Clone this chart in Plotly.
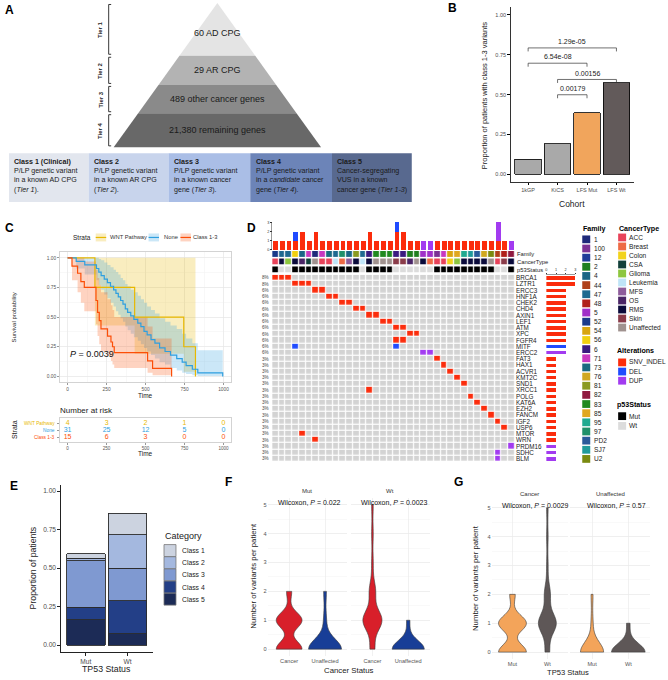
import numpy as np
import plotly.graph_objects as go

W, H = 668, 680
FONT = "Liberation Sans, Arial, sans-serif"


def X(p):
    return p / W


def Y(p):
    return 1 - p / H


def DX(a, b):
    return [a / W, b / W]


def DY(top, bottom):
    return [1 - bottom / H, 1 - top / H]


# ============================ DATA ============================
# Panel A
tier_names = ["Tier 1", "Tier 2", "Tier 3", "Tier 4"]
tier_texts = ["60 AD CPG", "29 AR CPG", "489 other cancer genes", "21,380 remaining genes"]
class_titles = ["Class 1 (Clinical)", "Class 2", "Class 3", "Class 4", "Class 5"]
class_bodies = [
    "P/LP genetic variant<br>in a known AD CPG<br>(<i>Tier 1</i>).",
    "P/LP genetic variant<br>in a known AR CPG<br>(<i>Tier 2</i>).",
    "P/LP genetic variant<br>in a known cancer<br>gene (<i>Tier 3</i>).",
    "P/LP genetic variant<br>in a <i>candidate</i> cancer<br>gene (<i>Tier 4</i>).",
    "Cancer-segregating<br>VUS in a known<br>cancer gene (<i>Tier 1-3</i>)",
]

# Panel B
cohorts = ["1kGP", "KiCS", "LFS Mut", "LFS Wt"]
prop_class13 = [0.094, 0.192, 0.386, 0.574]
cmp_from = ["1kGP", "1kGP", "KiCS", "KiCS"]
cmp_to = ["LFS Wt", "LFS Mut", "LFS Wt", "LFS Mut"]
cmp_p = ["1.29e-05", "6.54e-08", "0.00156", "0.00179"]
cmp_height = [0.793, 0.697, 0.595, 0.499]

# Panel C
strata = ["WNT Pathway", "None", "Class 1-3"]
wnt_time = [0, 175, 430, 745, 820]
wnt_surv = [1.0, 0.75, 0.5, 0.25, 0.0]
wnt_lo = [1.0, 0.43, 0.19, 0.04, 0.0]
wnt_hi = [1.0, 1.0, 1.0, 1.0, 0.0]
none_time = [0, 55, 110, 185, 200, 215, 235, 255, 275, 295, 310, 325, 340, 355, 370, 385, 405,
             425, 450, 470, 490, 510, 535, 560, 590, 625, 660, 700, 735, 760, 800, 835, 995]
none_surv = [1.0, 0.97, 0.94, 0.91, 0.88, 0.85, 0.82, 0.79, 0.76, 0.73, 0.70, 0.67, 0.64, 0.61,
             0.57, 0.54, 0.51, 0.48, 0.45, 0.42, 0.38, 0.35, 0.31, 0.28, 0.24, 0.21, 0.18, 0.15,
             0.12, 0.09, 0.06, 0.03, 0.0]
none_hi = [1.0, 1.0, 1.0, 1.0, 0.99, 0.98, 0.96, 0.94, 0.92, 0.90, 0.88, 0.86, 0.83, 0.81, 0.78,
           0.76, 0.73, 0.71, 0.68, 0.65, 0.62, 0.59, 0.56, 0.53, 0.49, 0.46, 0.43, 0.40, 0.36,
           0.32, 0.28, 0.22, 0.0]
none_lo = [1.0, 0.91, 0.86, 0.81, 0.77, 0.73, 0.69, 0.66, 0.62, 0.59, 0.55, 0.52, 0.49, 0.46,
           0.42, 0.39, 0.36, 0.33, 0.30, 0.27, 0.24, 0.21, 0.18, 0.15, 0.12, 0.10, 0.07, 0.05,
           0.03, 0.02, 0.01, 0.004, 0.0]
cls_time = [0, 28, 64, 85, 107, 182, 192, 203, 214, 256, 278, 288, 299, 513, 545, 667]
cls_surv = [1.0, 0.93, 0.87, 0.80, 0.75, 0.64, 0.54, 0.47, 0.40, 0.34, 0.29, 0.25, 0.20, 0.13, 0.067, 0.0]
cls_hi = [1.0, 1.0, 1.0, 1.0, 0.97, 0.90, 0.83, 0.77, 0.71, 0.65, 0.60, 0.56, 0.50, 0.42, 0.32, 0.0]
cls_lo = [1.0, 0.81, 0.71, 0.62, 0.55, 0.44, 0.34, 0.27, 0.21, 0.17, 0.13, 0.10, 0.07, 0.03, 0.01, 0.0]
km_pvalue = "0.0039"
risk_time = [0, 250, 500, 750, 1000]
risk_wnt = [4, 3, 2, 1, 0]
risk_none = [31, 25, 12, 5, 0]
risk_class13 = [15, 6, 3, 0, 0]

# Panel D
genes = ["BRCA1", "LZTR1", "ERCC3", "HNF1A", "CHEK2", "CHD4", "AXIN1", "LEF1", "ATM", "XPC",
         "FGFR4", "MITF", "ERCC2", "FAT3", "HAX1", "ACVR1", "KMT2C", "SND1", "XRCC1", "POLG",
         "KAT6A", "EZH2", "FANCM", "IGF2", "USP6", "MTOR", "WRN", "PRDM16", "SDHC", "BLM"]
alt_gene = ["BRCA1", "BRCA1", "BRCA1", "LZTR1", "LZTR1", "LZTR1", "ERCC3", "ERCC3", "HNF1A", "HNF1A",
            "CHEK2", "CHEK2", "CHD4", "CHD4", "AXIN1", "AXIN1", "LEF1", "LEF1", "ATM", "ATM",
            "XPC", "XPC", "FGFR4", "FGFR4", "MITF", "MITF", "ERCC2", "ERCC2", "FAT3", "HAX1",
            "ACVR1", "KMT2C", "SND1", "XRCC1", "POLG", "KAT6A", "EZH2", "FANCM", "IGF2", "USP6",
            "MTOR", "WRN", "PRDM16", "SDHC", "BLM"]
alt_sample = [0, 1, 2, 3, 4, 5, 6, 7, 8, 9,
              10, 11, 12, 13, 14, 15, 16, 17, 18, 19,
              20, 21, 18, 19, 3, 18, 22, 23, 24, 25,
              26, 27, 28, 14, 29, 30, 31, 32, 33, 34,
              4, 6, 35, 33, 33]
alt_type = ["SNV_INDEL", "SNV_INDEL", "SNV_INDEL", "SNV_INDEL", "SNV_INDEL", "SNV_INDEL", "SNV_INDEL",
            "SNV_INDEL", "SNV_INDEL", "SNV_INDEL", "SNV_INDEL", "SNV_INDEL", "SNV_INDEL", "SNV_INDEL",
            "SNV_INDEL", "SNV_INDEL", "SNV_INDEL", "SNV_INDEL", "SNV_INDEL", "SNV_INDEL", "SNV_INDEL",
            "SNV_INDEL", "SNV_INDEL", "SNV_INDEL", "DEL", "DEL", "DUP", "DUP", "SNV_INDEL", "SNV_INDEL",
            "SNV_INDEL", "SNV_INDEL", "SNV_INDEL", "SNV_INDEL", "SNV_INDEL", "SNV_INDEL", "SNV_INDEL",
            "SNV_INDEL", "SNV_INDEL", "SNV_INDEL", "SNV_INDEL", "SNV_INDEL", "DUP", "DUP", "DUP"]
alt_levels = ["SNV_INDEL", "DEL", "DUP"]
sample_family = ["52", "47", "47", "56", "4", "71", "1", "71", "73", "47", "97", "4", "81", "47", "6",
                 "83", "83", "83", "6", "6", "2", "2", "5", "5", "100", "71", "54", "85", "95", "SJ7",
                 "PD2", "76", "U2", "44", "48", "82"]
sample_cancer = ["ACC", "RMS", "Glioma", "RMS", "OS", "CSA", "Unaffected", "ACC", "ACC", "Leukemia",
                 "Breast", "MFS", "RMS", "Leukemia", "RMS", "Unaffected", "Unaffected", "Unaffected",
                 "Skin", "Skin", "OS", "Unaffected", "RMS", "Breast", "ACC", "ACC", "Colon", "Glioma",
                 "RMS", "RMS", "RMS", "RMS", "Unaffected", "ACC", "Skin", "RMS"]
sample_p53 = ["Mut", "Wt", "Wt", "Mut", "Mut", "Mut", "Mut", "Mut", "Mut", "Mut", "Mut", "Mut", "Mut",
              "Wt", "Mut", "Mut", "Mut", "Mut", "Wt", "Wt", "Wt", "Wt", "Wt", "Wt", "Mut", "Mut", "Mut",
              "Mut", "Mut", "Mut", "Mut", "Mut", "Mut", "Wt", "Wt", "Mut"]
family_levels = ["1", "100", "12", "2", "4", "44", "47", "48", "5", "52", "54", "56", "6", "71", "73",
                 "76", "81", "82", "83", "85", "95", "97", "PD2", "SJ7", "U2"]
cancer_levels = ["ACC", "Breast", "Colon", "CSA", "Glioma", "Leukemia", "MFS", "OS", "RMS", "Skin",
                 "Unaffected"]
p53_levels = ["Mut", "Wt"]

# Panel E
tp53_status = ["Mut", "Wt"]
category_levels = ["Class 1", "Class 2", "Class 3", "Class 4", "Class 5"]
prop_class1 = [0.027, 0.141]
prop_class2 = [0.016, 0.216]
prop_class3 = [0.303, 0.213]
prop_class4 = [0.082, 0.214]
prop_class5 = [0.164, 0.073]

# Panels F and G (patients per number of variants)
variant_levels = [0, 1, 2, 3, 4, 5]
mut_cancer_n = [10, 10, 2, 0, 0, 0]
mut_unaffected_n = [12, 1, 1, 0, 0, 0]
wt_cancer_n = [3, 12, 4, 1, 1, 1]
wt_unaffected_n = [10, 1, 0, 0, 0, 0]
wilcox_F = ["0.022", "0.0023"]
wilcox_G = ["0.0029", "0.57"]

# ============================ STYLE ============================
tier_fill = ["#e4e4e4", "#b3b3b3", "#8a8a8a", "#686868"]
tier_bounds_px = [2, 55, 84.3, 112.7, 147]
class_fill = ["#e2e6ee", "#c8d4ec", "#aabee6", "#6c84b8", "#58698f"]
class_x_px = [8, 88, 168, 250, 332, 412]
b_colors = ["#a9a9a9", "#a9a9a9", "#f1a55c", "#625a5a"]
strata_colors = ["#E7B800", "#2E9FDF", "#FC4E07"]
strata_fill = ["rgba(231,184,0,0.25)", "rgba(46,159,223,0.25)", "rgba(252,78,7,0.25)"]
alt_colors = ["#fb2c0c", "#1f4bff", "#a23bf0"]
family_colors = ["#1f2a7a", "#7b3294", "#1f3c99", "#1f7f1f", "#1a6585", "#b0401a", "#1f6a90",
                 "#b0201a", "#a030c8", "#1a3a8a", "#d8a510", "#f0d010", "#3a1a80", "#c838c0",
                 "#1a6a80", "#d0a820", "#8a9a20", "#901a40", "#208a20", "#e0a820", "#20aa90",
                 "#20906a", "#2a5a9a", "#209a9a", "#7a8a10"]
cancer_colors = ["#e8435a", "#ee6a45", "#f2d31b", "#12403a", "#8dc63f", "#bfe4f7", "#8e5c9b",
                 "#4a2566", "#0b0b3b", "#8a3c4a", "#a0928f"]
p53_colors = ["#000000", "#dcdcdc"]
cat_colors = ["#ccd3e0", "#a4b8df", "#7f99d1", "#233f87", "#1c2b56"]
f_colors = ["#d81f2a", "#183e97"]
g_colors = ["#f3a45a", "#5e5757"]

shapes = []
annotations = []
traces = []


def ann(text, x, y, size=7, color="#222222", xanchor="center", yanchor="middle", angle=0, **kw):
    d = dict(text=text, x=X(x), y=Y(y), xref="paper", yref="paper", showarrow=False,
             font=dict(size=size, color=color, family=FONT), xanchor=xanchor, yanchor=yanchor,
             textangle=angle, borderpad=0)
    d.update(kw)
    annotations.append(d)


def rect(x0, y0, x1, y1, fill, line_color=None, lw=0):
    shapes.append(dict(type="rect", xref="paper", yref="paper", x0=X(x0), x1=X(x1), y0=Y(y0), y1=Y(y1),
                       fillcolor=fill, line=dict(color=line_color or fill, width=lw), layer="above"))


def seg(x0, y0, x1, y1, color, lw=1):
    shapes.append(dict(type="line", xref="paper", yref="paper", x0=X(x0), x1=X(x1), y0=Y(y0), y1=Y(y1),
                       line=dict(color=color, width=lw), layer="above"))


def disc_scale(colors):
    n = len(colors)
    cs = []
    for i, c in enumerate(colors):
        cs.append([i / n, c])
        cs.append([(i + 1) / n, c])
    return cs


def base_axis(**kw):
    d = dict(showgrid=False, zeroline=False, showline=False, ticks="", showticklabels=False)
    d.update(kw)
    return d


axes = {}

# ============================ PANEL A ============================
apex_x, apex_y, base_y, base_hw = 217, 2, 147, 104


def hw(yy):
    return base_hw * (yy - apex_y) / (base_y - apex_y)


for i in range(4):
    y0, y1 = tier_bounds_px[i], tier_bounds_px[i + 1]
    pts = [(apex_x - hw(y0), y0), (apex_x + hw(y0), y0), (apex_x + hw(y1), y1), (apex_x - hw(y1), y1)]
    path = "M " + " L ".join(f"{X(a):.5f},{Y(b):.5f}" for a, b in pts) + " Z"
    shapes.append(dict(type="path", xref="paper", yref="paper", path=path, fillcolor=tier_fill[i],
                       line=dict(width=0), layer="below"))
    cy = (y0 + y1) / 2 + (4 if i == 0 else 0)
    ann(tier_texts[i], apex_x, cy, size=9, color="#1a1a1a")
    bx = 108
    seg(bx, y0 + 1.5, bx, y1 - 1.5, "#222", 0.9)
    seg(bx, y0 + 1.5, bx + 2.5, y0 + 1.5, "#222", 0.9)
    seg(bx, y1 - 1.5, bx + 2.5, y1 - 1.5, "#222", 0.9)
    ann("<b>" + tier_names[i] + "</b>", 100, (y0 + y1) / 2, size=6, angle=-90)

for i in range(5):
    rect(class_x_px[i], 153, class_x_px[i + 1], 202, class_fill[i])
    ann("<b>" + class_titles[i] + "</b><br>" + class_bodies[i], class_x_px[i] + 4.5, 157, size=7.1,
        color="#1a1a1a", xanchor="left", yanchor="top", align="left")

ann("<b>A</b>", 3, 9, size=12, color="black", xanchor="left")

# ============================ PANEL B ============================
xb = [cohorts.index(c) + 1 for c in cohorts]
traces.append(go.Bar(x=xb, y=prop_class13, marker=dict(color=b_colors, line=dict(color="black", width=0.8)),
                     width=0.9, xaxis="x", yaxis="y", hoverinfo="skip", showlegend=False))
for f, t, p, h in zip(cmp_from, cmp_to, cmp_p, cmp_height):
    i, j = cohorts.index(f) + 1, cohorts.index(t) + 1
    traces.append(go.Scatter(x=[i, i, j, j], y=[h - 0.022, h, h, h - 0.022], mode="lines",
                             line=dict(color="#333", width=0.7), xaxis="x", yaxis="y", hoverinfo="skip",
                             showlegend=False))
    annotations.append(dict(text=p, x=(i + j) / 2, y=h + 0.005, xref="x", yref="y", showarrow=False,
                            yanchor="bottom", font=dict(size=7, color="#222", family=FONT)))
axstyle_b = dict(showline=True, linecolor="black", linewidth=0.8, ticks="outside", ticklen=2.5,
                 tickcolor="black", showticklabels=True, tickfont=dict(size=5.5, color="#4d4d4d"))
axes["xaxis"] = base_axis(domain=DX(511, 635), anchor="y", range=[0.4, 4.6], tickvals=[1, 2, 3, 4],
                          ticktext=cohorts, **axstyle_b)
axes["yaxis"] = base_axis(domain=DY(6, 182), anchor="x", range=[-0.05, 1.05],
                          tickvals=[0, 0.25, 0.5, 0.75, 1.0],
                          ticktext=["0.00", "0.25", "0.50", "0.75", "1.00"], **axstyle_b)
ann("Cohort", 573, 204, size=8.5)
ann("Proportion of patients with class 1-3 variants", 485, 95, size=7.5, angle=-90)
ann("<b>B</b>", 447, 7, size=12, color="black", xanchor="left")

# ============================ PANEL C ============================
km = [(wnt_time, wnt_surv, wnt_lo, wnt_hi), (none_time, none_surv, none_lo, none_hi),
      (cls_time, cls_surv, cls_lo, cls_hi)]
for k, (t, s, lo, hi) in enumerate(km):
    traces.append(go.Scatter(x=t, y=hi, mode="lines", line=dict(width=0, shape="hv"), xaxis="x2",
                             yaxis="y2", hoverinfo="skip", showlegend=False))
    traces.append(go.Scatter(x=t, y=lo, mode="lines", line=dict(width=0, shape="hv"), fill="tonexty",
                             fillcolor=strata_fill[k], xaxis="x2", yaxis="y2", hoverinfo="skip",
                             showlegend=False))
for k, (t, s, lo, hi) in enumerate(km):
    traces.append(go.Scatter(x=t, y=s, mode="lines", line=dict(width=1.2, shape="hv", color=strata_colors[k]),
                             xaxis="x2", yaxis="y2", hoverinfo="skip", showlegend=False))
annotations.append(dict(text="<i>P</i> = " + km_pvalue, x=5, y=0.19, xref="x2", yref="y2", showarrow=False,
                        xanchor="left", font=dict(size=9, color="#111", family=FONT)))
grid_c = dict(showgrid=True, gridcolor="#e6e6e6", gridwidth=0.6, showline=True, mirror=True,
              linecolor="#c8c8c8", linewidth=0.8, ticks="outside", ticklen=2, tickcolor="#999",
              showticklabels=True, tickfont=dict(size=4.8, color="#555"))
axes["xaxis2"] = base_axis(domain=DX(59, 231), anchor="y2", range=[-50, 1050],
                           tickvals=risk_time, minor=dict(dtick=125, tick0=0, showgrid=True,
                                                          gridcolor="#f3f3f3"), **grid_c)
axes["yaxis2"] = base_axis(domain=DY(252, 383), anchor="x2", range=[-0.05, 1.05],
                           tickvals=[0, 0.25, 0.5, 0.75, 1.0],
                           ticktext=["0.00", "0.25", "0.50", "0.75", "1.00"],
                           minor=dict(dtick=0.125, tick0=0, showgrid=True, gridcolor="#f3f3f3"), **grid_c)
ann("Survival probability", 13, 318, size=6, angle=-90)
ann("Time", 145, 396, size=6.5)
ann("Strata", 71, 237.5, size=6.5, xanchor="left")
leg_sw = [95, 148, 180]
leg_tx = [108, 162, 192]
for k in range(3):
    rect(leg_sw[k], 233.5, leg_sw[k] + 10.5, 241.5, strata_fill[k])
    seg(leg_sw[k], 237.5, leg_sw[k] + 10.5, 237.5, strata_colors[k], 1.2)
    ann(strata[k], leg_tx[k], 237.5, size=5.8, color="#333", xanchor="left")
risk_rows = [risk_wnt, risk_none, risk_class13]
for k in range(3):
    traces.append(go.Scatter(x=risk_time, y=[3 - k] * 5, mode="text", text=[str(v) for v in risk_rows[k]],
                             textfont=dict(size=7, color=strata_colors[k], family=FONT), xaxis="x3",
                             yaxis="y3", hoverinfo="skip", showlegend=False))
    annotations.append(dict(text=strata[k], x=X(56), y=3 - k, xref="paper", yref="y3", showarrow=False,
                            xanchor="right", font=dict(size=4.8, color=strata_colors[k], family=FONT)))
axes["xaxis3"] = base_axis(domain=DX(59, 231), anchor="y3", range=[-50, 1050], tickvals=risk_time,
                           showline=True, mirror=True, linecolor="#c8c8c8", linewidth=0.8,
                           ticks="outside", ticklen=2, tickcolor="#999", showticklabels=True,
                           tickfont=dict(size=4.6, color="#555"))
axes["yaxis3"] = base_axis(domain=DY(419, 443), anchor="x3", range=[0.3, 3.7], tickvals=[1, 2, 3],
                           showline=True, mirror=True, linecolor="#c8c8c8", linewidth=0.8,
                           ticks="outside", ticklen=2, tickcolor="#999")
ann("Number at risk", 58, 411, size=8, xanchor="left")
ann("Time", 145, 455, size=6.5)
ann("Strata", 13, 430, size=7, angle=-90)
ann("<b>C</b>", 3, 228, size=12, color="black", xanchor="left")

# ============================ PANEL D ============================
n_samples = len(sample_family)
n_genes = len(genes)
mat = np.zeros((n_genes, n_samples))
for g, s, t in zip(alt_gene, alt_sample, alt_type):
    mat[genes.index(g), s] = alt_levels.index(t) + 1
traces.append(go.Heatmap(z=mat, x=list(range(n_samples)), y=list(range(n_genes)), zmin=-0.5, zmax=3.5,
                         colorscale=disc_scale(["#d3d3d3"] + alt_colors), showscale=False, xgap=1.2,
                         ygap=1.2, xaxis="x5", yaxis="y5", hoverinfo="skip"))
tracks = [(sample_family, family_levels, family_colors, "y6"),
          (sample_cancer, cancer_levels, cancer_colors, "y7"),
          (sample_p53, p53_levels, p53_colors, "y8")]
for vals, levels, cols, ya in tracks:
    z = [[levels.index(v) for v in vals]]
    traces.append(go.Heatmap(z=z, x=list(range(n_samples)), y=[0], zmin=-0.5, zmax=len(levels) - 0.5,
                             colorscale=disc_scale(cols), showscale=False, xgap=1.2, ygap=0,
                             xaxis="x5", yaxis=ya, hoverinfo="skip"))
for k, lev in enumerate(alt_levels):
    per_sample = [0] * n_samples
    per_gene = [0] * n_genes
    for g, s, t in zip(alt_gene, alt_sample, alt_type):
        if t == lev:
            per_sample[s] += 1
            per_gene[genes.index(g)] += 1
    traces.append(go.Bar(x=list(range(n_samples)), y=per_sample, marker=dict(color=alt_colors[k], line=dict(width=0)),
                         width=0.72, xaxis="x4", yaxis="y4", hoverinfo="skip", showlegend=False))
    traces.append(go.Bar(y=list(range(n_genes)), x=per_gene, orientation="h",
                         marker=dict(color=alt_colors[k], line=dict(width=0)), width=0.55,
                         xaxis="x9", yaxis="y5", hoverinfo="skip", showlegend=False))
gene_count = [alt_gene.count(g) for g in genes]
for r, c in enumerate(gene_count):
    annotations.append(dict(text=f"{round(100 * c / n_samples)}%", x=X(270.5), y=r, xref="paper",
                            yref="y5", showarrow=False, xanchor="right",
                            font=dict(size=4.6, color="#444", family=FONT)))
axes["xaxis4"] = base_axis(domain=DX(272, 515.5), anchor="y4", range=[-0.5, n_samples - 0.5])
axes["yaxis4"] = base_axis(domain=DY(222, 250), anchor="x4", range=[0, 3.05], tickvals=[0, 1, 2, 3],
                           showticklabels=True, tickfont=dict(size=3.8, color="#333"), ticks="outside",
                           ticklen=1.5, tickcolor="#333", showline=True, linecolor="#333", linewidth=0.5)
axes["xaxis5"] = base_axis(domain=DX(272, 515.5), anchor="y5", range=[-0.5, n_samples - 0.5])
axes["yaxis5"] = base_axis(domain=DY(275, 463), anchor="x5", range=[n_genes - 0.5, -0.5],
                           tickvals=list(range(n_genes)), ticktext=genes, side="right",
                           showticklabels=True, tickfont=dict(size=6.3, color="#1a1a1a"))
axes["yaxis6"] = base_axis(domain=DY(251, 257.5), anchor="x5", range=[-0.5, 0.5])
axes["yaxis7"] = base_axis(domain=DY(258.5, 265), anchor="x5", range=[-0.5, 0.5])
axes["yaxis8"] = base_axis(domain=DY(266.5, 273), anchor="x5", range=[-0.5, 0.5])
axes["xaxis9"] = base_axis(domain=DX(547, 576), anchor="y5", side="top", range=[0, 3],
                           tickvals=[0, 1, 2, 3], showticklabels=True, tickfont=dict(size=3.8, color="#333"),
                           ticks="outside", ticklen=1.5, tickcolor="#333", showline=True,
                           linecolor="#333", linewidth=0.5)
for lab, yy in zip(["Family", "CancerType", "p53Status"], [254.3, 261.7, 269.8]):
    ann(lab, 517, yy, size=5.8, color="#222", xanchor="left")
LEG = 6.6
ann("<b>Family</b>", 583, 229.5, size=7.1, color="black", xanchor="left")
for i, (lev, col) in enumerate(zip(family_levels, family_colors)):
    cy = 239.4 + i * 9.19
    rect(583, cy - 3.9, 591, cy + 3.9, col)
    ann(lev, 593.5, cy, size=LEG, color="#222", xanchor="left")
ann("<b>CancerType</b>", 618.5, 229.5, size=7.1, color="black", xanchor="left")
for i, (lev, col) in enumerate(zip(cancer_levels, cancer_colors)):
    cy = 237.5 + i * 9.05
    rect(619, cy - 3.9, 627, cy + 3.9, col)
    ann(lev, 628.8, cy, size=LEG, color="#222", xanchor="left")
ann("<b>Alterations</b>", 617, 352, size=7.1, color="black", xanchor="left")
for i, (lev, col) in enumerate(zip(alt_levels, alt_colors)):
    cy = 363 + i * 9.2
    rect(619, cy - 3.9, 627, cy + 3.9, col)
    ann(lev, 628.8, cy, size=LEG, color="#222", xanchor="left")
ann("<b>p53Status</b>", 617, 406, size=7.1, color="black", xanchor="left")
for i, (lev, col) in enumerate(zip(p53_levels, p53_colors)):
    cy = 417 + i * 9.8
    rect(619, cy - 3.9, 627, cy + 3.9, col)
    ann(lev, 628.8, cy, size=LEG, color="#222", xanchor="left")
ann("<b>D</b>", 246, 228, size=12, color="black", xanchor="left")

# ============================ PANEL E ============================
cat_props = [prop_class1, prop_class2, prop_class3, prop_class4, prop_class5]
for k in [4, 3, 2, 1, 0]:
    traces.append(go.Bar(x=[1, 2], y=cat_props[k], marker=dict(color=cat_colors[k], line=dict(color="#2b2b2b", width=0.9)),
                         width=0.92, xaxis="x10", yaxis="y10", hoverinfo="skip", showlegend=False))
axstyle_e = dict(showline=True, linecolor="#222", linewidth=1, ticks="outside", ticklen=2.5,
                 tickcolor="#222", showticklabels=True, tickfont=dict(size=6.6, color="#4d4d4d"))
axes["xaxis10"] = base_axis(domain=DX(60, 152), anchor="y10", range=[0.4, 2.6], tickvals=[1, 2],
                            ticktext=tp53_status, **axstyle_e)
axes["yaxis10"] = base_axis(domain=DY(486, 654), anchor="x10", range=[-0.045, 1.04],
                            tickvals=[0, 0.25, 0.5, 0.75, 1.0],
                            ticktext=["0.00", "0.25", "0.50", "0.75", "1.00"], **axstyle_e)
ann("Proportion of patients", 33, 569, size=8.7, angle=-90)
ann("TP53 Status", 106, 671, size=8.8)
ann("Category", 163, 537, size=9, xanchor="left")
for i, (lev, col) in enumerate(zip(category_levels, cat_colors)):
    cy = 552 + i * 12.2
    rect(163.5, cy - 6, 175.5, cy + 6, col, "#777", 0.8)
    ann(lev, 181, cy, size=6.8, color="#222", xanchor="left")
ann("<b>E</b>", 8, 487, size=12, color="black", xanchor="left")


# ============================ PANELS F & G ============================
def violin(counts, pos, w, bw, color, xa, ya):
    vals = np.repeat(variant_levels, counts)
    return go.Violin(x=np.full(len(vals), pos), y=vals, width=w, bandwidth=bw, spanmode="hard",
                     scalemode="width", side="both", fillcolor=color, line=dict(color="#3a3a3a", width=0.6),
                     points=False, xaxis=xa, yaxis=ya, hoverinfo="skip", showlegend=False, opacity=1)


traces.append(violin(mut_cancer_n, 1, 0.72, 0.27, f_colors[0], "x11", "y11"))
traces.append(violin(mut_unaffected_n, 2, 0.92, 0.35, f_colors[1], "x11", "y11"))
traces.append(violin(wt_cancer_n, 1, 0.53, 0.35, f_colors[0], "x12", "y12"))
traces.append(violin(wt_unaffected_n, 2, 0.9, 0.3, f_colors[1], "x12", "y12"))
traces.append(violin(mut_cancer_n, 1, 0.8, 0.27, g_colors[0], "x13", "y13"))
traces.append(violin(wt_cancer_n, 2, 0.51, 0.35, g_colors[1], "x13", "y13"))
traces.append(violin(mut_unaffected_n, 1, 0.64, 0.35, g_colors[0], "x14", "y14"))
traces.append(violin(wt_unaffected_n, 2, 0.93, 0.3, g_colors[1], "x14", "y14"))


def facet_axes(xname, yname, xdom, ydom, ticktext, show_y):
    axes[xname] = base_axis(domain=DX(*xdom), anchor=yname.replace("yaxis", "y"), range=[0.4, 2.6],
                            tickvals=[1, 2], ticktext=ticktext, showticklabels=True,
                            tickfont=dict(size=5.6, color="#555"), showgrid=True, gridcolor="#ebebeb",
                            gridwidth=0.7)
    axes[yname] = base_axis(domain=DY(*ydom), anchor=xname.replace("xaxis", "x"), range=[-0.25, 5.25],
                            tickvals=variant_levels, showticklabels=show_y,
                            tickfont=dict(size=5.6, color="#555"), showgrid=True, gridcolor="#ebebeb",
                            gridwidth=0.7, minor=dict(dtick=0.5, tick0=0, showgrid=True, gridcolor="#f5f5f5",
                                                      gridwidth=0.6))


facet_axes("xaxis11", "yaxis11", (267.4, 346.6), (498.75, 658.25), ["Cancer", "Unaffected"], True)
facet_axes("xaxis12", "yaxis12", (351, 430), (498.75, 658.25), ["Cancer", "Unaffected"], False)
facet_axes("xaxis13", "yaxis13", (492, 569), (501.75, 661.25), tp53_status, True)
facet_axes("xaxis14", "yaxis14", (571, 651), (501.75, 661.25), tp53_status, False)

ann("Mut", 307, 492, size=6, color="#333")
ann("Wt", 390.5, 492, size=6, color="#333")
ann("Wilcoxon, <i>P</i> = " + wilcox_F[0], 309.5, 503.5, size=7, color="#111")
ann("Wilcoxon, <i>P</i> = " + wilcox_F[1], 394.5, 503.5, size=7, color="#111")
ann("Number of variants per patient", 253, 577, size=7.8, angle=-90)
ann("Cancer Status", 349, 672.5, size=7.8)
ann("<b>F</b>", 224, 483, size=12, color="black", xanchor="left")

ann("Cancer", 530.5, 495, size=6, color="#333")
ann("Unaffected", 611, 495, size=6, color="#333")
ann("Wilcoxon, <i>P</i> = " + wilcox_G[0], 536, 506.5, size=7, color="#111")
ann("Wilcoxon, <i>P</i> = " + wilcox_G[1], 617, 506.5, size=7, color="#111")
ann("Number of variants per patient", 476, 580, size=7.8, angle=-90)
ann("TP53 Status", 569, 674.5, size=7.6)
ann("<b>G</b>", 453, 483, size=12, color="black", xanchor="left")

# ============================ FIGURE ============================
fig = go.Figure(data=traces)
fig.update_layout(width=W, height=H, margin=dict(l=0, r=0, t=0, b=0), paper_bgcolor="white",
                  plot_bgcolor="white", showlegend=False, barmode="stack", violinmode="overlay",
                  font=dict(family=FONT, size=7, color="#222"), shapes=shapes, annotations=annotations,
                  **axes)
fig.write_html("out.html", config={"displayModeBar": False, "staticPlot": True},
               post_script="document.body.style.margin='0px';document.body.style.overflow='hidden';")
